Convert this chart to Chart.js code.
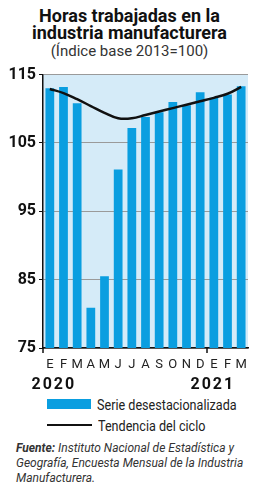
<!DOCTYPE html>
<html>
<head>
<meta charset="utf-8">
<script src="https://cdn.jsdelivr.net/npm/chart.js@4"></script>
<style>
    body { margin: 0; background: #fff; font-family: Roboto, sans-serif; color: #111; }
    #wrap { position: relative; width: 259px; height: 500px; overflow: hidden; }
    #title { position: absolute; top: 7px; left: 0; width: 259px; text-align: center; font-weight: bold; font-size: 18px; line-height: 17px; }
    #subtitle { position: absolute; top: 42px; left: 0; width: 259px; text-align: center; font-size: 15px; color: #333; }
    #chartBox { position: absolute; top: 62px; left: 0; width: 259px; height: 333px; }
    .legend { position: absolute; left: 47px; font-size: 15px; color: #222; white-space: nowrap; line-height: 18px; }
    .legend span { display: inline-block; vertical-align: middle; margin-right: 6px; }
    .legend .txt { transform: scaleX(0.84); transform-origin: left center; }
    #source { position: absolute; top: 441px; left: 16px; width: 236px; font-size: 12px; line-height: 15px; font-style: italic; color: #333; }
</style>
</head>
<body>
<div id="wrap">
    <div id="title">Horas trabajadas en la<br>industria manufacturera</div>
    <div id="subtitle">(Índice base 2013=100)</div>
    <div id="chartBox"><canvas id="horasChart"></canvas></div>
    <div class="legend" style="top:395px"><span style="width:44px;height:10px;background:#0a9ee0;margin-top:-2px"></span><span class="txt">Serie desestacionalizada</span></div>
    <div class="legend" style="top:416px"><span style="width:45px;height:2px;background:#111;margin-top:-2px"></span><span class="txt">Tendencia del ciclo</span></div>
    <div id="source"><b>Fuente:</b> Instituto Nacional de Estadística y Geografía, Encuesta Mensual de la Industria Manufacturera.</div>
</div>
<script>
const months = ["E", "F", "M", "A", "M", "J", "J", "A", "S", "O", "N", "D", "E", "F", "M"];
const serie = [113.0, 113.2, 110.8, 80.9, 85.5, 101.1, 107.2, 108.8, 109.5, 111.0, 110.5, 112.4, 111.6, 112.1, 113.3];
const tendencia = [112.9, 112.3, 111.4, 110.4, 109.4, 108.6, 108.6, 109.1, 109.6, 110.1, 110.6, 111.1, 111.6, 112.2, 113.2];
const years = ["2020", "2021"];
const yearIndex = [0, 12];

const chartExtras = {
    id: 'chartExtras',
    beforeDraw(chart) {
        const { ctx, chartArea } = chart;
        ctx.save();
        ctx.fillStyle = '#d5ebf8';
        ctx.fillRect(chartArea.left, chartArea.top, chartArea.right - chartArea.left, chartArea.bottom - chartArea.top);
        ctx.restore();
    },
    afterDraw(chart) {
        const { ctx, chartArea, scales } = chart;
        const x = scales.x;
        ctx.save();
        // year separator tick and axis corner
        ctx.strokeStyle = '#111';
        ctx.lineWidth = 1.5;
        const sep = (x.getPixelForValue(11) + x.getPixelForValue(12)) / 2;
        ctx.beginPath();
        ctx.moveTo(sep, chartArea.bottom);
        ctx.lineTo(sep, chartArea.bottom + 5);
        ctx.moveTo(chartArea.left, chartArea.bottom);
        ctx.lineTo(chartArea.left, chartArea.bottom + 5);
        ctx.stroke();
        // years
        ctx.fillStyle = '#111';
        ctx.font = 'bold 16px Roboto';
        ctx.letterSpacing = '2px';
        ctx.textAlign = 'center';
        ctx.textBaseline = 'middle';
        years.forEach((y, i) => {
            const px = x.getPixelForValue(yearIndex[i]) + (i === 0 ? 4 : -1);
            ctx.fillText(y, px, chartArea.bottom + 37);
        });
        ctx.restore();
    }
};

new Chart(
    document.getElementById("horasChart"),
    {
        type: 'bar',
        data: {
            labels: months,
            datasets: [
                {
                    type: 'line',
                    label: 'Tendencia del ciclo',
                    data: tendencia,
                    borderColor: '#111',
                    borderWidth: 2.5,
                    pointRadius: 0,
                    tension: 0.4,
                    order: 0
                },
                {
                    label: 'Serie desestacionalizada',
                    data: serie,
                    backgroundColor: '#0a9ee0',
                    barPercentage: 0.64,
                    categoryPercentage: 1,
                    order: 1
                }
            ]
        },
        options: {
            responsive: true,
            maintainAspectRatio: false,
            animation: false,
            layout: { padding: { top: 10, right: 11, left: 0, bottom: 0 } },
            plugins: { legend: { display: false }, tooltip: { enabled: false } },
            scales: {
                x: {
                    afterFit: s => { s.height = 47; },
                    grid: { display: false, drawTicks: false },
                    border: { color: '#111', width: 1.5 },
                    ticks: {
                        padding: 9,
                        color: '#222',
                        font: { family: 'Roboto', size: 13 },
                        maxRotation: 0,
                        autoSkip: false
                    }
                },
                y: {
                    min: 75,
                    max: 115,
                    afterFit: s => { s.width = 43; },
                    grid: { color: '#9a9a9a', lineWidth: 1, tickLength: 4, tickColor: '#111' },
                    border: { color: '#111', width: 1.5 },
                    ticks: {
                        stepSize: 10,
                        padding: 3,
                        color: '#111',
                        font: { family: 'Roboto', size: 16, weight: 'bold' }
                    }
                }
            }
        },
        plugins: [chartExtras]
    }
);
</script>
</body>
</html>
